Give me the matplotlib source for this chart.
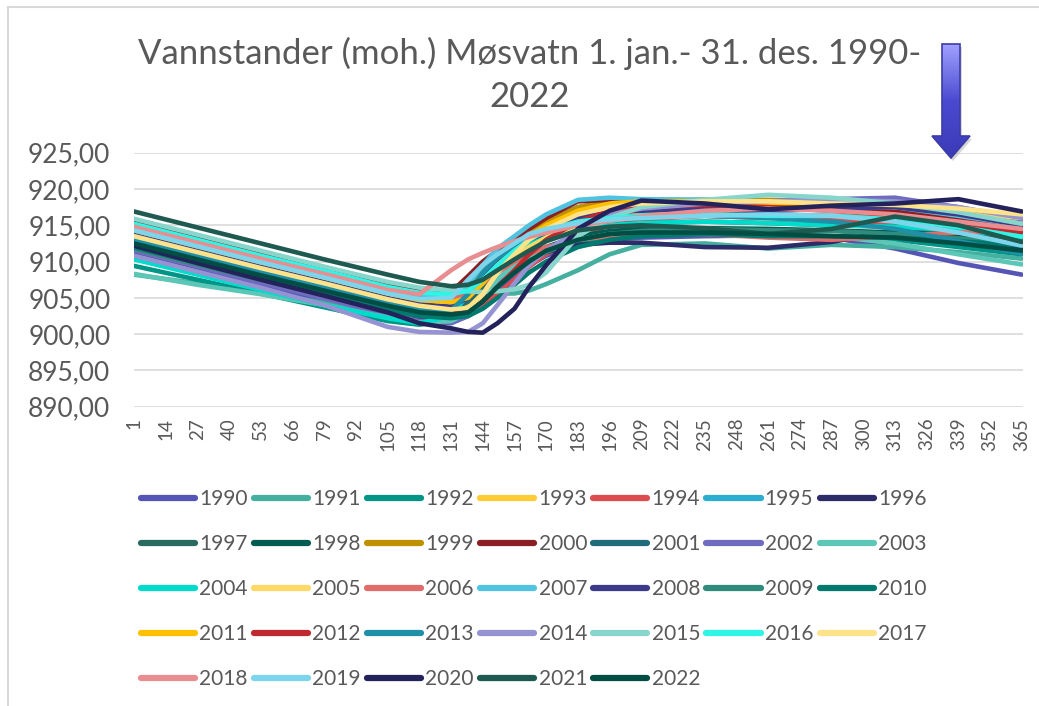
import matplotlib
matplotlib.use("Agg")
import matplotlib.pyplot as plt
import numpy as np
from matplotlib.lines import Line2D
from matplotlib.patches import Polygon

plt.rcParams['font.family'] = ['Lato', 'DejaVu Sans']

# sample days (day of year)
days = [1, 27, 53, 79, 105, 118, 131, 138, 144, 150, 157, 163, 170, 183, 196, 209, 235, 261, 287, 313, 339, 365]

# water level (moh.) per year at the sample days
lvl_1990 = [911.0, 908.8, 906.7, 904.6, 902.5, 901.8, 901.5, 902.5, 904.0, 906.0, 908.0, 909.5, 910.8, 912.3, 913.0, 913.3, 913.5, 913.6, 913.3, 911.8, 909.8, 908.2]
lvl_1991 = [908.2, 907.0, 905.8, 904.3, 902.5, 901.8, 903.5, 905.2, 905.6, 905.6, 905.6, 906.0, 906.9, 908.8, 911.0, 912.3, 912.5, 911.8, 912.3, 912.0, 911.3, 910.4]
lvl_1992 = [909.4, 907.5, 905.6, 903.7, 901.8, 901.3, 902.0, 903.5, 905.5, 907.5, 909.5, 910.8, 911.8, 912.8, 913.3, 913.5, 913.8, 913.5, 913.5, 913.0, 912.0, 911.0]
lvl_1993 = [913.0, 910.8, 908.6, 906.4, 904.3, 903.4, 903.0, 904.0, 906.5, 909.0, 911.0, 912.5, 913.8, 915.5, 916.5, 917.0, 917.5, 917.5, 917.3, 917.0, 916.3, 915.5]
lvl_1994 = [912.0, 909.8, 907.7, 905.6, 903.5, 902.6, 902.3, 902.8, 904.0, 905.5, 907.5, 909.3, 911.0, 913.5, 915.0, 915.8, 916.3, 916.0, 915.8, 915.3, 914.8, 914.0]
lvl_1995 = [914.0, 911.8, 909.6, 907.5, 905.5, 904.7, 904.6, 906.0, 908.5, 911.0, 913.0, 914.5, 915.8, 917.5, 918.3, 918.5, 918.5, 918.3, 917.8, 917.0, 915.8, 914.5]
lvl_1996 = [911.5, 909.3, 907.2, 905.0, 903.0, 902.2, 902.0, 903.0, 905.0, 907.0, 909.0, 910.3, 911.3, 912.3, 912.6, 912.6, 912.0, 911.9, 912.7, 914.3, 913.6, 911.8]
lvl_1997 = [913.5, 911.3, 909.1, 907.0, 904.8, 903.8, 903.5, 904.5, 906.5, 908.5, 910.5, 911.8, 913.0, 914.3, 915.0, 915.3, 915.5, 915.3, 915.0, 914.8, 914.0, 913.0]
lvl_1998 = [912.3, 910.0, 907.9, 905.8, 903.6, 902.6, 902.3, 903.3, 905.3, 907.3, 909.3, 910.8, 912.0, 913.5, 914.2, 914.5, 914.6, 914.5, 914.3, 914.0, 913.3, 912.5]
lvl_1999 = [914.8, 912.6, 910.4, 908.3, 906.2, 905.3, 905.1, 906.5, 908.5, 910.5, 912.5, 914.0, 915.5, 917.5, 918.2, 918.3, 918.5, 918.5, 918.3, 917.8, 917.0, 916.0]
lvl_2000 = [915.5, 913.3, 911.1, 909.0, 906.8, 905.9, 905.8, 908.0, 910.0, 911.5, 913.0, 914.5, 916.0, 918.3, 918.5, 918.3, 918.0, 917.8, 917.5, 917.0, 916.0, 915.0]
lvl_2001 = [913.0, 910.8, 908.6, 906.5, 904.4, 903.6, 903.4, 904.5, 906.8, 909.0, 911.0, 912.5, 913.8, 915.5, 916.3, 916.5, 916.8, 916.5, 916.3, 915.8, 915.0, 914.0]
lvl_2002 = [911.5, 909.3, 907.1, 904.9, 902.7, 901.8, 901.6, 902.5, 904.5, 907.0, 909.5, 911.5, 913.3, 915.5, 916.8, 917.5, 918.0, 918.3, 918.6, 918.8, 917.5, 915.8]
lvl_2003 = [908.3, 906.8, 905.5, 904.0, 902.3, 901.6, 901.8, 903.0, 905.0, 907.5, 909.5, 910.8, 911.8, 913.0, 913.8, 914.0, 914.2, 914.0, 913.5, 912.5, 911.0, 909.6]
lvl_2004 = [910.3, 908.2, 906.1, 904.0, 902.2, 901.5, 902.5, 905.5, 908.0, 909.5, 911.0, 912.3, 913.3, 914.5, 915.0, 915.3, 915.5, 915.3, 915.0, 914.8, 914.3, 913.5]
lvl_2005 = [913.2, 911.0, 908.8, 906.6, 904.5, 903.6, 903.0, 903.3, 905.5, 908.5, 910.5, 912.0, 913.3, 915.0, 916.0, 916.5, 917.0, 917.3, 917.5, 917.5, 916.8, 916.0]
lvl_2006 = [914.5, 912.3, 910.1, 908.0, 905.8, 905.0, 904.8, 905.5, 907.0, 908.5, 910.0, 911.0, 912.0, 913.0, 913.5, 913.8, 913.8, 913.3, 913.0, 913.5, 914.0, 914.3]
lvl_2007 = [914.8, 912.6, 910.4, 908.3, 906.1, 905.3, 905.2, 906.8, 909.5, 911.8, 913.5, 915.0, 916.5, 918.5, 918.8, 918.6, 918.5, 918.3, 918.0, 917.5, 916.3, 915.0]
lvl_2008 = [913.8, 911.6, 909.4, 907.2, 905.0, 904.1, 903.8, 905.0, 907.5, 910.0, 912.0, 913.5, 914.5, 916.0, 916.8, 917.0, 917.3, 917.0, 917.3, 917.5, 916.5, 915.0]
lvl_2009 = [911.8, 909.6, 907.5, 905.4, 903.3, 902.5, 902.3, 903.0, 904.5, 906.5, 908.5, 910.0, 911.3, 913.0, 913.8, 914.2, 914.5, 914.3, 914.2, 913.8, 913.2, 912.5]
lvl_2010 = [912.0, 909.8, 907.7, 905.6, 903.4, 902.5, 902.2, 902.5, 903.5, 905.0, 906.8, 908.5, 910.0, 912.0, 913.0, 913.5, 913.8, 913.5, 913.5, 913.3, 912.8, 912.2]
lvl_2011 = [914.3, 912.1, 909.9, 907.8, 905.6, 904.7, 904.4, 905.0, 907.0, 909.5, 911.5, 913.5, 915.0, 917.0, 918.0, 918.3, 918.3, 918.0, 918.2, 918.0, 917.3, 916.3]
lvl_2012 = [912.8, 910.6, 908.4, 906.3, 904.1, 903.2, 902.8, 903.2, 904.5, 906.5, 908.8, 911.0, 913.0, 915.5, 917.0, 917.5, 917.8, 917.5, 917.0, 916.3, 915.3, 914.1]
lvl_2013 = [913.0, 910.8, 908.6, 906.5, 904.3, 903.4, 903.3, 905.5, 908.5, 910.5, 912.0, 913.3, 914.3, 915.5, 916.0, 916.3, 916.3, 916.0, 915.5, 914.5, 912.8, 911.1]
lvl_2014 = [910.8, 908.6, 906.4, 904.0, 901.0, 900.3, 900.2, 900.3, 901.5, 904.0, 907.0, 909.5, 911.5, 914.3, 916.5, 917.3, 918.0, 918.3, 918.5, 918.3, 917.5, 916.0]
lvl_2015 = [915.9, 913.7, 911.5, 909.3, 907.2, 906.4, 906.0, 905.9, 905.8, 905.9, 906.2, 906.8, 908.5, 913.5, 916.0, 917.5, 918.5, 919.2, 918.8, 918.0, 916.8, 915.2]
lvl_2016 = [915.2, 913.0, 910.8, 908.7, 906.5, 905.7, 905.5, 906.0, 907.5, 909.5, 911.5, 913.0, 914.3, 915.5, 916.0, 916.3, 916.5, 916.3, 916.3, 915.8, 914.8, 913.4]
lvl_2017 = [913.5, 911.3, 909.1, 907.0, 904.8, 903.9, 903.4, 903.6, 905.5, 908.5, 911.0, 913.0, 914.5, 916.5, 917.5, 918.0, 918.3, 918.3, 918.0, 917.8, 917.3, 916.5]
lvl_2018 = [914.8, 912.6, 910.4, 908.3, 906.1, 905.5, 908.8, 910.3, 911.2, 912.0, 912.8, 913.4, 914.0, 915.0, 915.6, 916.2, 917.0, 917.3, 917.0, 916.5, 915.5, 914.5]
lvl_2019 = [914.3, 912.1, 909.9, 907.8, 905.6, 904.8, 905.0, 907.5, 909.5, 911.0, 912.5, 913.8, 914.5, 915.3, 915.8, 916.0, 916.3, 916.5, 916.3, 915.5, 914.0, 912.2]
lvl_2020 = [912.2, 909.8, 907.5, 905.3, 903.0, 901.5, 900.8, 900.3, 900.2, 901.5, 903.5, 906.5, 909.5, 914.5, 917.0, 918.4, 918.0, 917.2, 917.7, 918.0, 918.6, 916.9]
lvl_2021 = [916.9, 914.7, 912.5, 910.3, 908.2, 907.2, 906.6, 906.8, 907.5, 908.8, 910.3, 911.5, 912.8, 914.3, 914.8, 915.0, 914.6, 913.8, 914.5, 916.2, 915.0, 912.7]
lvl_2022 = [912.5, 910.3, 908.1, 906.0, 903.9, 903.0, 902.7, 903.0, 904.5, 906.5, 908.5, 910.0, 911.5, 913.0, 913.8, 914.0, 914.0, 913.8, 913.5, 913.3, 912.5, 911.5]

years = list(range(1990, 2023))
levels = [lvl_1990, lvl_1991, lvl_1992, lvl_1993, lvl_1994, lvl_1995, lvl_1996,
          lvl_1997, lvl_1998, lvl_1999, lvl_2000, lvl_2001, lvl_2002, lvl_2003,
          lvl_2004, lvl_2005, lvl_2006, lvl_2007, lvl_2008, lvl_2009, lvl_2010,
          lvl_2011, lvl_2012, lvl_2013, lvl_2014, lvl_2015, lvl_2016, lvl_2017,
          lvl_2018, lvl_2019, lvl_2020, lvl_2021, lvl_2022]

colors = ['#5555B5', '#45B0A0', '#009587', '#FFCC33', '#DE4B4E', '#2AAED0', '#2D2B68',
          '#2A6B60', '#005C50', '#BF9000', '#8B1E22', '#1F6B7A', '#6F6CC0', '#5CC7B7',
          '#00DCCB', '#FFD966', '#E06C6C', '#50C3E0', '#3B3B8A', '#2F8C7C', '#007A6E',
          '#FFC000', '#BE2A30', '#208FA8', '#9593D2', '#88D6CB', '#2EF5E6', '#FFE38A',
          '#E88D90', '#7DD5EB', '#24225A', '#1F5A50', '#004D44']

tick_days = list(range(1, 366, 13))
y_ticks = [890, 895, 900, 905, 910, 915, 920, 925]

W, H = 1039, 706
fig = plt.figure(figsize=(W / 100, H / 100), dpi=100)
ax = fig.add_axes([134 / W, 1 - 406.7 / H, (1023 - 134) / W, (406.7 - 152.7) / H])

for yr, vals, c in zip(years, levels, colors):
    ax.plot(days, vals, color=c, lw=3.3, solid_joinstyle='round', solid_capstyle='round', label=str(yr))

ax.set_xlim(1, 365.5)
ax.set_ylim(890, 925)
ax.set_xticks(tick_days)
ax.set_xticklabels([str(d) for d in tick_days], rotation=90, fontsize=13.5, color='#595959')
ax.set_yticks(y_ticks)
ax.set_yticklabels([f"{v:.2f}".replace('.', ',') for v in y_ticks], fontsize=19, color='#595959')
ax.tick_params(axis='both', length=0)
ax.tick_params(axis='y', pad=17)
ax.tick_params(axis='x', pad=8)
ax.grid(axis='y', color='#D9D9D9', lw=1.2)
ax.set_axisbelow(True)
for s in ax.spines.values():
    s.set_visible(False)

fig.text(530 / W, 1 - 75 / H, "Vannstander (moh.) Møsvatn 1. jan.- 31. des. 1990-\n2022",
         ha='center', va='center', fontsize=25, color='#595959', linespacing=1.4)

# legend, filled row by row like the original
handles = [Line2D([0], [0], color=c, lw=4.5, solid_capstyle='round') for c in colors]
labels = [str(y) for y in years]
ncol = 7
order = [r * ncol + c for c in range(ncol) for r in range(5) if r * ncol + c < len(years)]
fig.legend([handles[i] for i in order], [labels[i] for i in order], ncol=ncol,
           loc='upper left', bbox_to_anchor=(141 / W, 1 - 489 / H), frameon=False,
           fontsize=15, handlelength=2.6, handletextpad=0.2, columnspacing=0.3,
           labelspacing=1.2, borderpad=0, borderaxespad=0, labelcolor='#595959')

# decoration layer in pixel coordinates: border and the arrow
deco = fig.add_axes([0, 0, 1, 1], zorder=5)
deco.set_xlim(0, W)
deco.set_ylim(H, 0)
deco.axis('off')
deco.plot([8, 8], [7, H], color='#D9D9D9', lw=1.5)
deco.plot([8, W], [7, 7], color='#D9D9D9', lw=1.5)

arrow_pts = [(942, 44), (960, 44), (960, 136), (970, 136), (951, 158), (932, 136), (942, 136)]
shadow = Polygon([(x + 2, y + 3) for x, y in arrow_pts], closed=True, fc='#888888', ec='none', alpha=0.35)
deco.add_patch(shadow)
arrow = Polygon(arrow_pts, closed=True, fc='none', ec='#3C3CA8', lw=1.2)
grad = np.linspace(0, 1, 100).reshape(-1, 1)
cmap = matplotlib.colors.LinearSegmentedColormap.from_list('arr', ['#A0A0FF', '#4A4AD0', '#3B3BB8'])
img = deco.imshow(grad, extent=[932, 970, 158, 44], cmap=cmap, aspect='auto', zorder=6)
deco.add_patch(arrow)
arrow.set_zorder(7)
img.set_clip_path(arrow)
deco.set_xlim(0, W)
deco.set_ylim(H, 0)

fig.savefig('out.png', dpi=100)
